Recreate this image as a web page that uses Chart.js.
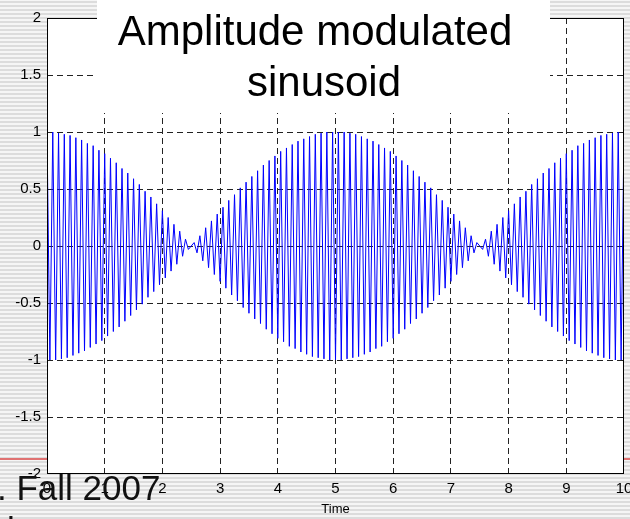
<!DOCTYPE html>
<html>
<head>
<meta charset="utf-8">
<script src="https://cdn.jsdelivr.net/npm/chart.js@4/dist/chart.umd.min.js"></script>
<style>
  html, body { margin: 0; padding: 0; background: #fff; }
  #am-chart { display: block; }
</style>
</head>
<body>
<canvas id="am-chart" width="630" height="519"></canvas>
<script>
const sampleStep = 0.05;
const amplitude = [
    1.00, -1.00, 1.00, -1.00, 0.99, -0.99, 0.98, -0.98, 0.97, -0.96,
    0.95, -0.94, 0.93, -0.92, 0.90, -0.89, 0.88, -0.86, 0.84, -0.83,
    0.81, -0.79, 0.77, -0.75, 0.73, -0.71, 0.68, -0.66, 0.64, -0.61,
    0.59, -0.56, 0.54, -0.51, 0.48, -0.45, 0.43, -0.40, 0.37, -0.34,
    0.31, -0.28, 0.25, -0.22, 0.19, -0.16, 0.13, -0.09, 0.06, -0.03,
    0.00, 0.03, -0.06, 0.09, -0.13, 0.16, -0.19, 0.22, -0.25, 0.28,
    -0.31, 0.34, -0.37, 0.40, -0.43, 0.45, -0.48, 0.51, -0.54, 0.56,
    -0.59, 0.61, -0.64, 0.66, -0.68, 0.71, -0.73, 0.75, -0.77, 0.79,
    -0.81, 0.83, -0.84, 0.86, -0.88, 0.89, -0.90, 0.92, -0.93, 0.94,
    -0.95, 0.96, -0.97, 0.98, -0.98, 0.99, -0.99, 1.00, -1.00, 1.00,
    -1.00, 1.00, -1.00, 1.00, -0.99, 0.99, -0.98, 0.98, -0.97, 0.96,
    -0.95, 0.94, -0.93, 0.92, -0.90, 0.89, -0.88, 0.86, -0.84, 0.83,
    -0.81, 0.79, -0.77, 0.75, -0.73, 0.71, -0.68, 0.66, -0.64, 0.61,
    -0.59, 0.56, -0.54, 0.51, -0.48, 0.45, -0.43, 0.40, -0.37, 0.34,
    -0.31, 0.28, -0.25, 0.22, -0.19, 0.16, -0.13, 0.09, -0.06, 0.03,
    0.00, -0.03, 0.06, -0.09, 0.13, -0.16, 0.19, -0.22, 0.25, -0.28,
    0.31, -0.34, 0.37, -0.40, 0.43, -0.45, 0.48, -0.51, 0.54, -0.56,
    0.59, -0.61, 0.64, -0.66, 0.68, -0.71, 0.73, -0.75, 0.77, -0.79,
    0.81, -0.83, 0.84, -0.86, 0.88, -0.89, 0.90, -0.92, 0.93, -0.94,
    0.95, -0.96, 0.97, -0.98, 0.98, -0.99, 0.99, -1.00, 1.00, -1.00,
    1.00
];
const titleLines = ['Amplitude modulated', 'sinusoid'];
const xAxisLabel = 'Time';
const footerText = '. Fall 2007';

const FONT = "'Liberation Sans', Arial, sans-serif";

const points = amplitude.map((v, i) => ({x: i * sampleStep, y: v}));

// slide stripes behind the figure, white axes, title box and footer on top
const slideLayer = {
    id: 'slideLayer',
    beforeDraw(chart) {
        const {ctx, width, height, chartArea} = chart;
        ctx.save();
        ctx.fillStyle = '#f5f5f5';
        ctx.fillRect(0, 0, width, height);
        ctx.fillStyle = '#dcdcdc';
        for (let y = 1; y < height; y += 4) {
            ctx.fillRect(0, y, width, 2);
        }
        ctx.fillStyle = '#e07272';
        ctx.fillRect(0, 458, width, 2);
        ctx.fillStyle = '#fff';
        ctx.fillRect(chartArea.left, chartArea.top,
            chartArea.right - chartArea.left, chartArea.bottom - chartArea.top);
        ctx.restore();
    },
    afterDraw(chart) {
        const {ctx, chartArea} = chart;
        ctx.save();
        ctx.strokeStyle = '#000';
        ctx.lineWidth = 1;
        ctx.strokeRect(chartArea.left + 0.5, chartArea.top + 0.5,
            chartArea.right - chartArea.left - 1, chartArea.bottom - chartArea.top - 1);

        ctx.fillStyle = '#fff';
        ctx.fillRect(97, 0, 453, 113);
        ctx.fillStyle = '#000';
        ctx.font = '42px ' + FONT;
        ctx.textAlign = 'center';
        ctx.textBaseline = 'alphabetic';
        ctx.fillText(titleLines[0], 315, 45);
        ctx.fillText(titleLines[1], 324, 96);

        ctx.font = '35px ' + FONT;
        ctx.textAlign = 'left';
        ctx.fillStyle = '#111';
        ctx.fillText(footerText, -3, 500);
        ctx.fillText('l', 7, 542);
        ctx.restore();
    }
};

new Chart(document.getElementById('am-chart'), {
    type: 'line',
    data: {
        datasets: [{
            data: points,
            borderColor: '#0000ff',
            borderWidth: 1,
            pointRadius: 0,
            tension: 0,
            fill: false
        }]
    },
    options: {
        responsive: false,
        animation: false,
        events: [],
        layout: {padding: {top: 18, right: 6, left: 0, bottom: 0}},
        plugins: {
            legend: {display: false},
            tooltip: {enabled: false}
        },
        scales: {
            x: {
                type: 'linear',
                min: 0,
                max: 10,
                ticks: {
                    stepSize: 1,
                    padding: 6,
                    maxRotation: 0,
                    color: '#000',
                    font: {family: FONT, size: 15},
                    callback: v => String(v)
                },
                grid: {
                    color: c => (c.tick && (c.tick.value === 0 || c.tick.value === 10)) ? 'rgba(0,0,0,0)' : '#222',
                    lineWidth: 1,
                    drawTicks: false
                },
                border: {display: false, dash: [6, 4]},
                title: {
                    display: true,
                    text: xAxisLabel,
                    color: '#000',
                    font: {family: FONT, size: 13},
                    padding: {top: 0, bottom: 2}
                },
                afterFit: s => {
                    s.height = 45;
                    s.paddingLeft = 0;
                    s.paddingRight = 0;
                }
            },
            y: {
                min: -2,
                max: 2,
                ticks: {
                    stepSize: 0.5,
                    padding: 6,
                    color: '#000',
                    font: {family: FONT, size: 15},
                    callback: v => String(v)
                },
                grid: {
                    color: c => (c.tick && Math.abs(c.tick.value) === 2) ? 'rgba(0,0,0,0)' : '#222',
                    lineWidth: 1,
                    drawTicks: false
                },
                border: {display: false, dash: [6, 4]},
                afterFit: s => {
                    s.width = 47;
                    s.paddingTop = 0;
                    s.paddingBottom = 0;
                }
            }
        }
    },
    plugins: [slideLayer]
});
</script>
</body>
</html>
